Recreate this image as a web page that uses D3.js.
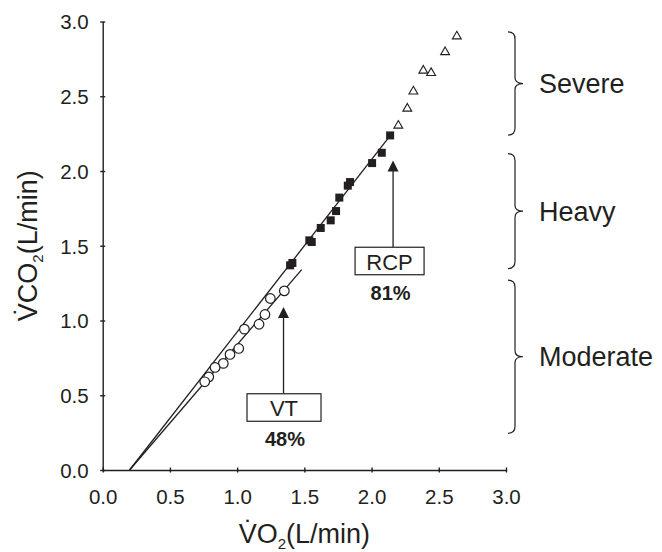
<!DOCTYPE html>
<html>
<head>
<meta charset="utf-8">
<script src="https://cdn.jsdelivr.net/npm/d3@7"></script>
<style>
  html, body { margin: 0; padding: 0; background: #fff; }
  svg { display: block; font-family: "Liberation Sans", Arial, Helvetica, sans-serif; }
</style>
</head>
<body>
<svg id="chart" width="662" height="552"></svg>
<script>
// ---- data (L/min) ----
const moderateVO2  = [1.351, 1.247, 1.207, 1.163, 1.054, 1.012, 0.947, 0.897, 0.836, 0.789, 0.759];
const moderateVCO2 = [1.198, 1.147, 1.040, 0.975, 0.942, 0.813, 0.773, 0.713, 0.686, 0.623, 0.590];

const heavyVO2  = [2.138, 2.076, 2.004, 1.840, 1.823, 1.760, 1.736, 1.696, 1.622, 1.555, 1.537, 1.411, 1.394];
const heavyVCO2 = [2.238, 2.122, 2.053, 1.926, 1.902, 1.822, 1.732, 1.670, 1.619, 1.525, 1.536, 1.385, 1.369];

const severeVO2  = [2.634, 2.547, 2.385, 2.443, 2.311, 2.266, 2.199];
const severeVCO2 = [2.906, 2.801, 2.677, 2.661, 2.538, 2.423, 2.309];

// regression lines: [x0, y0, x1, y1]
const upperLine = [0.20, 0.00, 2.15, 2.25];
const lowerLine = [0.20, 0.00, 1.48, 1.34];

// threshold annotations
const thrLabels = ["VT", "RCP"];
const thrPct    = ["48%", "81%"];
const thrX      = [1.345, 2.16];
const thrTip    = [1.09, 2.07];
const thrBase   = [0.51, 1.49];

// intensity domains
const domainLabels = ["Severe", "Heavy", "Moderate"];
const domainTop    = [2.93, 2.116, 1.27];
const domainBottom = [2.24, 1.347, 0.245];

const tickVals = [0, 0.5, 1.0, 1.5, 2.0, 2.5, 3.0];

// ---- drawing ----
const ink = "#231f20";
const svg = d3.select("#chart");
const x = d3.scaleLinear().domain([0, 3]).range([102.7, 506]);
const y = d3.scaleLinear().domain([0, 3]).range([470, 21.5]);

// axes
const yAxis = d3.axisLeft(y).tickValues(tickVals).tickFormat(d3.format(".1f"))
  .tickSizeInner(3).tickSizeOuter(0).tickPadding(11);
const gy = svg.append("g").attr("transform", `translate(${x(0)},0)`).call(yAxis);
const xAxis = d3.axisBottom(x).tickValues(tickVals).tickFormat(d3.format(".1f"))
  .tickSizeInner(3).tickSizeOuter(0).tickPadding(16);
const gx = svg.append("g").attr("transform", `translate(0,${y(0)})`).call(xAxis);

[gx, gy].forEach(g => {
  g.select(".domain").attr("stroke", ink).attr("stroke-width", 1.4);
  g.selectAll(".tick line").attr("stroke", ink).attr("stroke-width", 1.4);
  g.selectAll(".tick text").attr("fill", ink).style("font-size", "20.5px")
    .style("font-family", "'Liberation Sans', Arial, sans-serif");
});
gy.selectAll(".tick line").attr("x1", 2.5).attr("x2", -2.5);
gx.selectAll(".tick line").attr("y1", -2.5).attr("y2", 2.5);
gy.selectAll(".tick text").attr("dy", "0.36em");

// axis titles
const xt = svg.append("text")
  .attr("x", (x(0) + x(3)) / 2).attr("y", 543)
  .attr("text-anchor", "middle").attr("fill", ink).style("font-size", "27px");
xt.append("tspan").text("V\u0307O");
xt.append("tspan").attr("dy", 6).style("font-size", "15px").text("2");
xt.append("tspan").attr("dy", -6).text("(L/min)");

const yt = svg.append("text")
  .attr("transform", `translate(37,${(y(0) + y(3)) / 2}) rotate(-90)`)
  .attr("text-anchor", "middle").attr("fill", ink).style("font-size", "27px");
yt.append("tspan").text("V\u0307CO");
yt.append("tspan").attr("dy", 6).style("font-size", "15px").text("2");
yt.append("tspan").attr("dy", -6).text("(L/min)");

// regression lines
[upperLine, lowerLine].forEach(l => {
  svg.append("line")
    .attr("x1", x(l[0])).attr("y1", y(l[1]))
    .attr("x2", x(l[2])).attr("y2", y(l[3]))
    .attr("stroke", ink).attr("stroke-width", 1.3);
});

// moderate: open circles
svg.append("g").selectAll("circle").data(d3.range(moderateVO2.length)).join("circle")
  .attr("cx", i => x(moderateVO2[i])).attr("cy", i => y(moderateVCO2[i]))
  .attr("r", 4.8).attr("fill", "#fff").attr("stroke", ink).attr("stroke-width", 1.2);

// heavy: filled squares
svg.append("g").selectAll("rect").data(d3.range(heavyVO2.length)).join("rect")
  .attr("x", i => x(heavyVO2[i]) - 4).attr("y", i => y(heavyVCO2[i]) - 4)
  .attr("width", 8).attr("height", 8).attr("fill", ink);

// severe: open triangles
const tri = d3.symbol().type(d3.symbolTriangle).size(34);
svg.append("g").selectAll("path").data(d3.range(severeVO2.length)).join("path")
  .attr("d", tri)
  .attr("transform", i => `translate(${x(severeVO2[i])},${y(severeVCO2[i]) + 0.8})`)
  .attr("fill", "#fff").attr("stroke", ink).attr("stroke-width", 1.1);

// threshold arrows + boxes
const boxW = [74, 69], boxH = 27.5;
thrLabels.forEach((lab, i) => {
  const ax = x(thrX[i]);
  const tip = y(thrTip[i]);
  const base = y(thrBase[i]);
  svg.append("line").attr("x1", ax).attr("x2", ax).attr("y1", tip + 9).attr("y2", base)
    .attr("stroke", ink).attr("stroke-width", 1.3);
  svg.append("path")
    .attr("d", `M${ax},${tip} L${ax - 5.5},${tip + 11} L${ax + 5.5},${tip + 11} Z`)
    .attr("fill", ink);
  const cx = ax + (i === 0 ? 0.5 : -3.5);
  svg.append("rect").attr("x", cx - boxW[i] / 2).attr("y", base)
    .attr("width", boxW[i]).attr("height", boxH)
    .attr("fill", "#fff").attr("stroke", ink).attr("stroke-width", 1.2);
  svg.append("text").attr("x", cx).attr("y", base + boxH - 4.8)
    .attr("text-anchor", "middle").attr("fill", ink).style("font-size", "22px").text(lab);
  svg.append("text").attr("x", cx + 1).attr("y", base + boxH + 25)
    .attr("text-anchor", "middle").attr("fill", ink).style("font-size", "20px")
    .style("font-weight", "bold").text(thrPct[i]);
});

// braces + domain labels
function bracePath(x0, top, bot) {
  const mid = (top + bot) / 2;
  const xv = x0 + 7, xt = x0 + 15, c = 7;
  return `M${x0},${top} C${x0 + 5},${top} ${xv},${top + 2} ${xv},${top + c}` +
         ` L${xv},${mid - 6} C${xv},${mid - 2} ${xv + 3},${mid} ${xt},${mid}` +
         ` C${xv + 3},${mid} ${xv},${mid + 2} ${xv},${mid + 6}` +
         ` L${xv},${bot - c} C${xv},${bot - 2} ${x0 + 5},${bot} ${x0},${bot}`;
}
domainLabels.forEach((lab, i) => {
  const top = y(domainTop[i]), bot = y(domainBottom[i]);
  svg.append("path").attr("d", bracePath(508, top, bot))
    .attr("fill", "none").attr("stroke", ink).attr("stroke-width", 1.2);
  svg.append("text").attr("x", 539).attr("y", (top + bot) / 2 + 9.5)
    .attr("fill", ink).style("font-size", "27px").text(lab);
});
</script>
</body>
</html>
